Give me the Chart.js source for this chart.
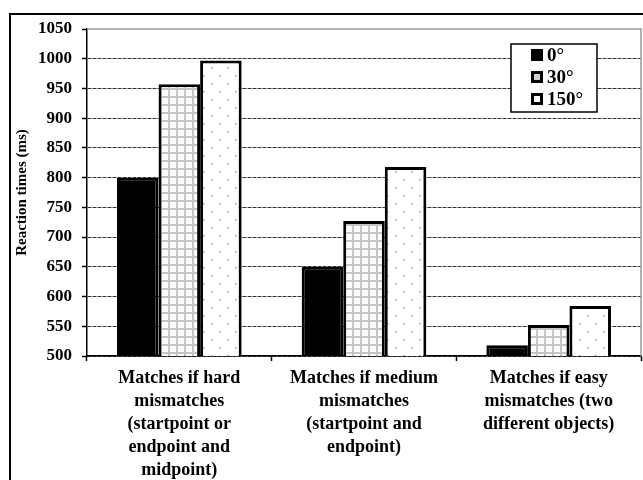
<!DOCTYPE html>
<html>
<head>
<meta charset="utf-8">
<script src="https://cdn.jsdelivr.net/npm/chart.js@4.4.0/dist/chart.umd.min.js"></script>
<style>
  html, body { margin: 0; padding: 0; background: #fff; }
  #wrap { position: relative; width: 643px; height: 480px; }
</style>
</head>
<body>
<div id="wrap"><canvas id="rtChart" width="643" height="480"></canvas></div>
<script>
// Chart data
const categories = [
  ["Matches if hard", "mismatches", "(startpoint or", "endpoint and", "midpoint)"],
  ["Matches if medium", "mismatches", "(startpoint and", "endpoint)"],
  ["Matches if easy", "mismatches (two", "different objects)"]
];
const seriesNames = ["0°", "30°", "150°"];
const rt0 = [800, 650, 518];
const rt30 = [957, 727, 552];
const rt150 = [997, 818, 584];
const yTicks = [500, 550, 600, 650, 700, 750, 800, 850, 900, 950, 1000, 1050];

const serif = "'Liberation Serif', 'Times New Roman', serif";

/**
 * Build the little grid pattern used for the 30° bars
 */
function makeGridPattern() {
  const c = document.createElement("canvas");
  c.width = 8;
  c.height = 8;
  const g = c.getContext("2d");
  g.fillStyle = "#fff";
  g.fillRect(0, 0, 8, 8);
  g.fillStyle = "#c4c4c4";
  g.fillRect(0, 0, 8, 2);
  g.fillRect(0, 0, 2, 8);
  return g.createPattern(c, "repeat");
}

/**
 * Build the sparse dot pattern used for the 150° bars
 */
function makeDotPattern() {
  const c = document.createElement("canvas");
  c.width = 16;
  c.height = 16;
  const g = c.getContext("2d");
  g.fillStyle = "#fff";
  g.fillRect(0, 0, 16, 16);
  g.fillStyle = "#9a9a9a";
  g.fillRect(3, 3, 1.5, 1.5);
  g.fillRect(11, 11, 1.5, 1.5);
  return g.createPattern(c, "repeat");
}

// Outer frame + plot area frame
const framePlugin = {
  id: "frame",
  beforeDatasetsDraw(chart) {
    const { ctx, chartArea } = chart;
    ctx.save();
    ctx.strokeStyle = "#9a9a9a";
    ctx.lineWidth = 1.5;
    ctx.beginPath();
    ctx.moveTo(chartArea.left, chartArea.top);
    ctx.lineTo(chartArea.right, chartArea.top);
    ctx.lineTo(chartArea.right, chartArea.bottom);
    ctx.stroke();
    ctx.restore();
  },
  afterDraw(chart) {
    const ctx = chart.ctx;
    ctx.save();
    ctx.strokeStyle = "#000";
    ctx.lineWidth = 2;
    ctx.strokeRect(10, 14, 700, 600);
    ctx.restore();
  }
};

// Boxed legend inside the plot area
const boxLegendPlugin = {
  id: "boxLegend",
  afterDatasetsDraw(chart) {
    const ctx = chart.ctx;
    const x = 511, y = 44, w = 86, h = 68;
    ctx.save();
    ctx.fillStyle = "#fff";
    ctx.fillRect(x, y, w, h);
    ctx.strokeStyle = "#000";
    ctx.lineWidth = 1.5;
    ctx.strokeRect(x, y, w, h);
    ctx.font = "bold 19px " + serif;
    ctx.textBaseline = "middle";
    ctx.textAlign = "left";
    chart.data.datasets.forEach(function (ds, i) {
      const cy = y + 11 + i * 22;
      ctx.fillStyle = "#000";
      ctx.fillRect(x + 20, cy - 6, 12, 12);
      if (ds.swatchFill) {
        ctx.fillStyle = ds.swatchFill;
        ctx.fillRect(x + 23, cy - 3, 6, 6);
      }
      ctx.fillStyle = "#000";
      ctx.fillText(ds.label, x + 36, cy + 1);
    });
    ctx.restore();
  }
};

const ctx = document.getElementById("rtChart").getContext("2d");

new Chart(ctx, {
  type: "bar",
  data: {
    labels: categories,
    datasets: [
      {
        label: seriesNames[0],
        data: rt0,
        backgroundColor: "#000",
        borderColor: "#000",
        borderWidth: 3
      },
      {
        label: seriesNames[1],
        data: rt30,
        backgroundColor: makeGridPattern(),
        borderColor: "#000",
        borderWidth: 3,
        swatchFill: "#d0d0d0"
      },
      {
        label: seriesNames[2],
        data: rt150,
        backgroundColor: makeDotPattern(),
        borderColor: "#000",
        borderWidth: 3,
        swatchFill: "#fff"
      }
    ]
  },
  options: {
    responsive: false,
    animation: false,
    events: [],
    layout: { padding: { top: 29, right: 2, bottom: 0, left: 0 } },
    datasets: {
      bar: { categoryPercentage: 0.675, barPercentage: 1, inflateAmount: 0 }
    },
    plugins: {
      legend: { display: false },
      tooltip: { enabled: false }
    },
    scales: {
      x: {
        offset: true,
        afterFit: function (scale) { scale.height = 124; },
        grid: {
          offset: true,
          drawOnChartArea: false,
          drawTicks: true,
          tickLength: 5,
          tickColor: "#000",
          tickWidth: 1.5
        },
        border: { display: true, color: "#000", width: 1.5 },
        ticks: {
          autoSkip: false,
          maxRotation: 0,
          padding: 6,
          color: "#000",
          font: { family: serif, size: 18, weight: "bold", lineHeight: 1.27 }
        }
      },
      y: {
        min: yTicks[0],
        max: yTicks[yTicks.length - 1],
        afterFit: function (scale) { scale.width = 87; },
        afterBuildTicks: function (scale) {
          scale.ticks = yTicks.map((v) => ({ value: v }));
        },
        grid: {
          color: (c) => (c.tick && c.tick.value === 1050 ? "rgba(0,0,0,0)" : "#333"),
          lineWidth: 1,
          drawTicks: true,
          tickLength: 5,
          tickColor: "#000",
          tickWidth: 1.5,
          tickBorderDash: []
        },
        border: { display: true, color: "#000", width: 1.5, dash: [4, 1] },
        ticks: {
          padding: 10,
          color: "#000",
          font: { family: serif, size: 17, weight: "bold" },
          callback: (v) => String(v)
        },
        title: {
          display: true,
          text: "Reaction times (ms)",
          color: "#000",
          padding: { top: 13, bottom: 0 },
          font: { family: serif, size: 15, weight: "bold" }
        }
      }
    }
  },
  plugins: [framePlugin, boxLegendPlugin]
});
</script>
</body>
</html>
